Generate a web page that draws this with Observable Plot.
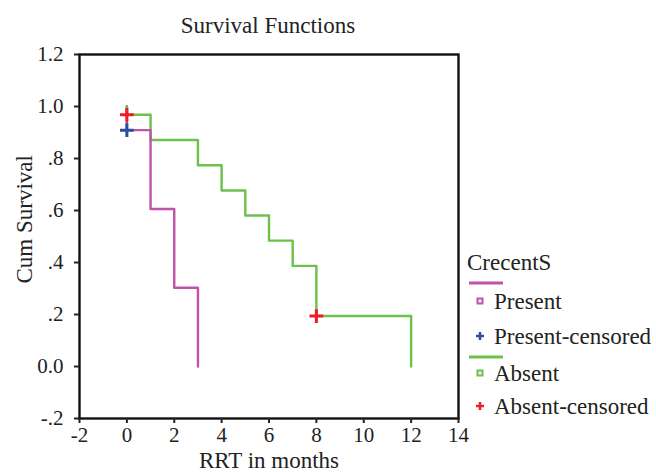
<!DOCTYPE html>
<html>
<head>
<meta charset="utf-8">
<script src="https://cdn.jsdelivr.net/npm/d3@7"></script>
<script src="https://cdn.jsdelivr.net/npm/@observablehq/plot@0.6"></script>
<style>
  html, body { margin: 0; padding: 0; background: #fff; }
  #wrap { position: relative; width: 656px; height: 472px; }
  #wrap svg { position: absolute; left: 0; top: 0; }
</style>
</head>
<body>
<div id="wrap"></div>
<script>
// Data
const seriesNames = ["Present", "Absent"];
const seriesColors = ["#C152A9", "#6DC14B"];
const censorColors = ["#2F4C9E", "#EE1C25"];
const presentTime = [0, 0, 1, 2, 3];
const presentSurv = [1.0, 0.909, 0.606, 0.303, 0.0];
const absentTime = [0, 0, 1, 3, 4, 5, 6, 7, 8, 12];
const absentSurv = [1.0, 0.968, 0.871, 0.774, 0.677, 0.581, 0.484, 0.387, 0.194, 0.0];
const presentCensTime = [0];
const presentCensSurv = [0.909];
const absentCensTime = [0, 8];
const absentCensSurv = [0.968, 0.194];
const xTicks = [-2, 0, 2, 4, 6, 8, 10, 12, 14];
const yTicks = [-0.2, 0, 0.2, 0.4, 0.6, 0.8, 1.0, 1.2];
const yTickLabels = ["-.2", "0.0", ".2", ".4", ".6", ".8", "1.0", "1.2"];
const legendTitle = "CrecentS";
const legendLabels = ["Present", "Present-censored", "Absent", "Absent-censored"];

const FONT = "Liberation Serif, Times New Roman, serif";
const TXT = "#222";

const present = presentTime.map((t, i) => ({t, s: presentSurv[i]}));
const absent = absentTime.map((t, i) => ({t, s: absentSurv[i]}));
const presentCens = presentCensTime.map((t, i) => ({t, s: presentCensSurv[i]}));
const absentCens = absentCensTime.map((t, i) => ({t, s: absentCensSurv[i]}));
const yFmt = d => yTickLabels[yTicks.findIndex(v => Math.abs(v - d) < 1e-9)];

const chart = Plot.plot({
  width: 656,
  height: 472,
  marginLeft: 79,
  marginRight: 198,
  marginTop: 54,
  marginBottom: 54,
  style: { fontFamily: FONT, fontSize: "21px", color: TXT, background: "transparent" },
  x: { domain: [-2, 14] },
  y: { domain: [-0.2, 1.2] },
  marks: [
    Plot.line(absent, { x: "t", y: "s", curve: "step-after", stroke: seriesColors[1], strokeWidth: 2.4 }),
    Plot.line(present, { x: "t", y: "s", curve: "step-after", stroke: seriesColors[0], strokeWidth: 2.4 }),
    Plot.line(absent.slice(0, 2), { x: "t", y: "s", stroke: seriesColors[1], strokeWidth: 2.4 }),
    Plot.dot(presentCens, { x: "t", y: "s", symbol: "plus", r: 4.5, stroke: censorColors[0], strokeWidth: 3 }),
    Plot.dot(absentCens, { x: "t", y: "s", symbol: "plus", r: 4.5, stroke: censorColors[1], strokeWidth: 3 }),
    Plot.frame({ stroke: "#111", strokeWidth: 2.4 }),
    Plot.axisX({ ticks: xTicks, tickFormat: d => String(d), tickSize: 5, tickPadding: 4, strokeWidth: 2, label: null, fontSize: 21 }),
    Plot.axisY({ ticks: yTicks, tickFormat: yFmt, tickSize: 5, tickPadding: 11, strokeWidth: 2, label: null, fontSize: 21 }),
    Plot.text(["RRT in months"], { x: 6, frameAnchor: "bottom", lineAnchor: "middle", textAnchor: "middle", dy: 42, fontSize: 23, fill: TXT }),
    Plot.text(["Cum Survival"], { frameAnchor: "left", textAnchor: "middle", lineAnchor: "middle", y: 0.566, dx: -55, rotate: -90, fontSize: 23, fill: TXT })
  ]
});
const wrap = document.getElementById("wrap");
wrap.appendChild(chart);

// Title and legend overlay
const ov = d3.select(wrap).append("svg")
  .attr("width", 656).attr("height", 472)
  .style("font-family", FONT).style("fill", TXT);
ov.append("text").attr("x", 268).attr("y", 33).attr("text-anchor", "middle")
  .attr("font-size", 23).text("Survival Functions");

const lg = ov.append("g");
lg.append("text").attr("x", 467).attr("y", 270).attr("font-size", 23).text(legendTitle);
const items = [
  { kind: "line", color: seriesColors[0], y: 283 },
  { kind: "sq", color: seriesColors[0], y: 301, label: legendLabels[0] },
  { kind: "plus", color: censorColors[0], y: 336, label: legendLabels[1] },
  { kind: "line", color: seriesColors[1], y: 357 },
  { kind: "sq", color: seriesColors[1], y: 373, label: legendLabels[2] },
  { kind: "plus", color: censorColors[1], y: 406, label: legendLabels[3] }
];
for (const it of items) {
  if (it.kind === "line") {
    lg.append("line").attr("x1", 469).attr("x2", 503).attr("y1", it.y).attr("y2", it.y)
      .attr("stroke", it.color).attr("stroke-width", 3);
  } else {
    if (it.kind === "sq") {
      lg.append("rect").attr("x", 477.5).attr("y", it.y - 2.5).attr("width", 5).attr("height", 5)
        .attr("fill", "#f4eef4").attr("stroke", it.color).attr("stroke-width", 2);
    } else {
      lg.append("path").attr("d", `M480,${it.y - 4}V${it.y + 4}M476,${it.y}H484`)
        .attr("stroke", it.color).attr("stroke-width", 2.5);
    }
    lg.append("text").attr("x", 494).attr("y", it.y + 8).attr("font-size", 23).text(it.label);
  }
}
</script>
</body>
</html>
